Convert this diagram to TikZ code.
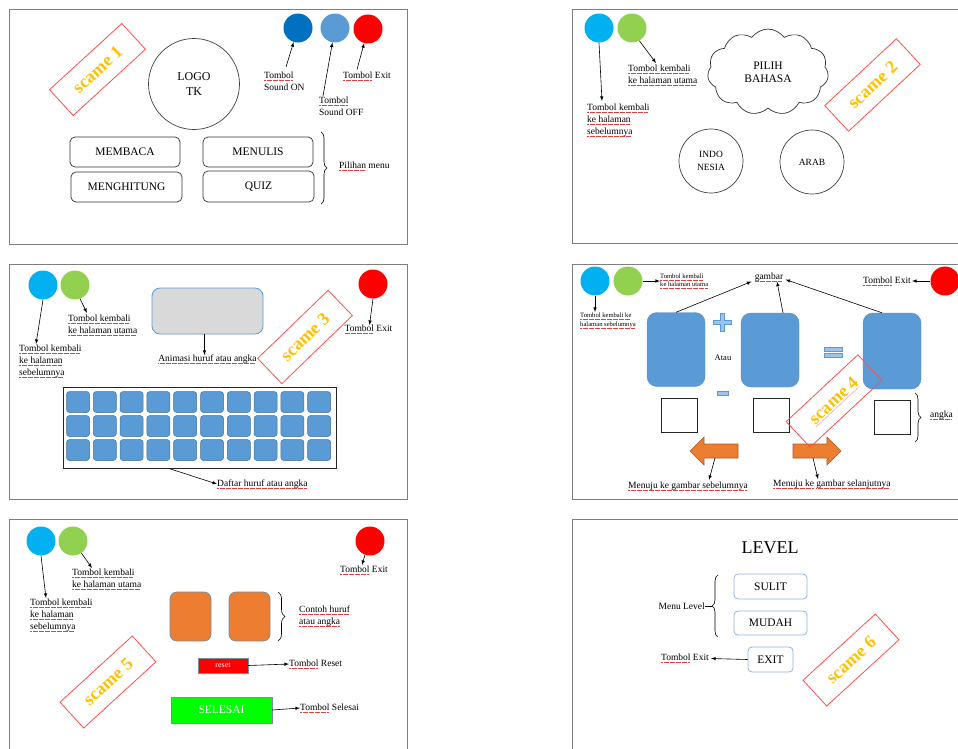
\documentclass[tikz,border=0pt]{standalone}
\usepackage{fontspec}
\setmainfont{Liberation Serif}
\usetikzlibrary{shapes.symbols,decorations.pathreplacing}

\definecolor{framegray}{HTML}{7F7F7F}
\definecolor{scamered}{HTML}{FF4F4F}
\definecolor{scamegold}{HTML}{FFC000}
\definecolor{soundon}{HTML}{0070C0}
\definecolor{boxblue}{HTML}{5B9BD5}
\definecolor{keyborder}{HTML}{41719C}
\definecolor{backcyan}{HTML}{00B0F0}
\definecolor{homegreen}{HTML}{92D050}
\definecolor{exitred}{HTML}{FF0000}
\definecolor{opblue}{HTML}{9DC3E6}
\definecolor{orangefill}{HTML}{ED7D31}
\definecolor{orangeline}{HTML}{AE5A21}
\definecolor{slateline}{HTML}{7A8CA0}
\definecolor{lvlblue}{HTML}{8FB4DC}
\definecolor{selesaigreen}{HTML}{00FF00}
\definecolor{typored}{HTML}{E04040}

\newsavebox\typobox
\newcommand\typo[1]{\leavevmode\sbox\typobox{#1}\rlap{\textcolor{typored}{\leaders\hbox{\rule[-2pt]{0.6pt}{0.4pt}\kern0.6pt}\hskip\wd\typobox}}\usebox\typobox}

\begin{document}
\begin{tikzpicture}[x=1pt, y=-1pt,
  frame/.style={draw=framegray, line width=1pt},
  scame box/.style={draw=scamered, line width=0.8pt, minimum width=98pt, minimum height=35pt,
                    text=scamegold, font=\fontsize{18}{18}\selectfont\bfseries},
  tombol/.style={circle, minimum size=29pt, inner sep=0pt},
  txt/.style={font=\fontsize{9.5}{12}\selectfont, inner sep=0pt, align=left},
  tiny txt/.style={font=\fontsize{6.6}{8.5}\selectfont, inner sep=0pt, align=left},
  pointer/.style={-latex, line width=0.6pt},
  menu box/.style={draw=black!80, line width=0.7pt, rounded corners=5pt, minimum width=110pt,
                   minimum height=30pt, font=\fontsize{11.5}{12}\selectfont},
  round box/.style={circle, draw=black!75, line width=0.7pt, inner sep=0pt, align=center},
  key/.style={rounded corners=3pt, fill=boxblue, draw=keyborder, line width=0.5pt,
              minimum width=23pt, minimum height=21pt, inner sep=0pt},
  gambar box/.style={rounded corners=10pt, fill=boxblue, draw=boxblue!90!black,
                     minimum width=58pt, minimum height=74pt, inner sep=0pt},
  angka box/.style={draw=black!85, line width=0.7pt, minimum width=36pt, minimum height=34pt, inner sep=0pt},
  op/.style={fill=opblue, draw=boxblue, line width=0.6pt},
  nav arrow/.style={fill=orangefill, draw=orangeline, line width=0.6pt},
  contoh box/.style={rounded corners=7pt, fill=orangefill, draw=slateline, line width=0.8pt,
                     minimum width=41pt, minimum height=49pt, inner sep=0pt},
  level box/.style={draw=lvlblue, line width=0.8pt, rounded corners=4pt,
                    font=\fontsize{11.5}{12}\selectfont, inner sep=0pt},
  kurung/.style={decorate, decoration={brace, amplitude=6pt}, line width=0.6pt}]

\useasboundingbox (0,0) rectangle (958,748);
\fill[white] (0,0) rectangle (958,748);

\draw[frame] (9,9) rectangle (407,244);
\node[scame box, rotate=42.5] (sc1) at (97.5,69.5) {scame 1};
\node[round box, minimum size=91pt, font=\fontsize{12}{15}\selectfont] (logo) at (194,84) {LOGO\\TK};
\node[tombol, fill=soundon] (on) at (298,28) {};
\node[tombol, fill=boxblue] (off) at (335,28) {};
\node[tombol, fill=exitred] (exit1) at (368,29) {};
\node[txt, anchor=north west] (lon) at (264,72) {\typo{Tombol}\\Sound ON};
\node[txt, anchor=north west] (loff) at (319,97) {\typo{Tombol}\\Sound OFF};
\node[txt, anchor=west] (lexit1) at (343,76) {\typo{Tombol} Exit};
\draw[pointer] ([xshift=22pt,yshift=5pt]lon.north west) -- (on);
\draw[pointer] ([xshift=4pt,yshift=1pt]loff.north west) -- (off);
\draw[pointer] ([xshift=14pt,yshift=2pt]lexit1.north west) -- (exit1);
\node[menu box] (membaca) at (125,152) {MEMBACA};
\node[menu box] (menulis) at (258,152) {MENULIS};
\node[menu box, minimum width=111pt] (menghitung) at (126.5,187) {MENGHITUNG};
\node[menu box, minimum width=111pt, minimum height=31pt] (quiz) at (258.5,186.5) {QUIZ};
\draw[kurung] (321,132) -- (321,204);
\node[txt, anchor=west] (lpilihan) at (339,166) {\typo{Pilihan} menu};

\draw[frame] (572,9) rectangle (975,243);
\node[tombol, fill=backcyan] (cy2) at (599,28) {};
\node[tombol, fill=homegreen] (gr2) at (632,28) {};
\node[txt, anchor=north west] (lprev2) at (587,104) {\typo{Tombol kembali}\\\typo{ke halaman}\\\typo{sebelumnya}};
\node[txt, anchor=north west] (lmain2) at (628,65) {\typo{Tombol kembali}\\\typo{ke halaman utama}};
\draw[pointer] (cy2.south) -- ([xshift=15pt,yshift=3pt]lprev2.north west);
\draw[pointer] (gr2.-60) -- ([xshift=28pt,yshift=2pt]lmain2.north west);
\node[cloud, draw=black!80, line width=0.7pt, cloud puffs=11, cloud puff arc=110, aspect=1.4, minimum width=121pt,
      minimum height=86pt, inner sep=0pt, align=center, font=\fontsize{11.5}{13}\selectfont] (bahasa) at (768,72) {PILIH\\BAHASA};
\node[scame box, rotate=43] (sc2) at (872.5,85) {scame 2};
\node[round box, minimum size=64pt, font=\fontsize{9.5}{13}\selectfont] (indo) at (711,161) {INDO\\NESIA};
\node[round box, minimum size=64pt, font=\fontsize{9.5}{13}\selectfont] (arab) at (812,162) {ARAB};

\draw[frame] (9,264) rectangle (407,499);
\node[tombol, fill=backcyan] (cy3) at (43,285) {};
\node[tombol, fill=homegreen] (gr3) at (75,285) {};
\node[txt, anchor=north west] (lprev3) at (19,345) {\typo{Tombol kembali}\\\typo{ke halaman}\\\typo{sebelumnya}};
\node[txt, anchor=north west] (lmain3) at (68,315) {\typo{Tombol kembali}\\\typo{ke halaman utama}};
\draw[pointer] (cy3.south) -- ([xshift=17pt,yshift=1pt]lprev3.north west);
\draw[pointer] (gr3.-70) -- ([xshift=19pt,yshift=2pt]lmain3.north west);
\node[rounded corners=8pt, fill=black!15, draw=boxblue, line width=0.8pt, minimum width=111pt,
      minimum height=46pt] (anim) at (207.5,311) {};
\node[txt, anchor=north] (lanim) at (207.5,355) {\typo{Animasi huruf atau angka}};
\draw[pointer] ([xshift=-3pt]anim.south) -- ([xshift=-3pt]lanim.north);
\node[scame box, rotate=44] (sc3) at (305,337) {scame 3};
\node[tombol, fill=exitred] (ex3) at (373,284) {};
\node[txt, anchor=north] (lex3) at (368.5,325) {\typo{Tombol} Exit};
\draw[pointer] (ex3.south) -- ([xshift=1pt]lex3.north);
\node[draw=black!85, line width=0.7pt, minimum width=273pt, minimum height=81pt] (kb) at (199.5,427.5) {};
\foreach \col in {0,...,9} {
  \foreach \row in {0,1,2} {
    \node[key] (k\col\row) at (78+26.8*\col, 402+24*\row) {};
  }
}
\node[txt, anchor=west] (ldaftar) at (217,484) {\typo{Daftar huruf atau angka}};
\draw[pointer] ([xshift=-31pt]kb.south) -- (ldaftar.west);

\draw[frame] (572,264) rectangle (975,499);
\node[tombol, fill=backcyan] (cy4) at (595,281) {};
\node[tombol, fill=homegreen] (gr4) at (628,281) {};
\node[tiny txt, anchor=west] (lmain4) at (660,281) {\typo{Tombol kembali}\\\typo{ke halaman utama}};
\node[tiny txt, anchor=north west] (lprev4) at (580,313) {\typo{Tombol kembali ke}\\\typo{halaman sebelumnya}};
\draw[pointer] (gr4) -- (lmain4.west);
\draw[pointer] (cy4) -- ([xshift=15pt,yshift=1pt]lprev4.north west);
\node[txt] (lgam) at (769,277) {\typo{gambar}};
\node[gambar box] (g1) at (676,349.5) {};
\node[gambar box] (g2) at (770,350) {};
\node[gambar box, minimum height=76pt] (g3) at (892,351) {};
\draw[pointer] (g1.north) -- ([xshift=-3pt]lgam.south west);
\draw[pointer] ([xshift=13pt]g2.north) -- ([xshift=8pt]lgam.south);
\draw[pointer] ([xshift=-10pt]g3.north) -- ([xshift=2pt,yshift=2pt]lgam.south east);
\filldraw[op] (720.5,313.5) -- (724.5,313.5) -- (724.5,320.5) -- (731.5,320.5) -- (731.5,324.5)
  -- (724.5,324.5) -- (724.5,331.5) -- (720.5,331.5) -- (720.5,324.5) -- (713.5,324.5)
  -- (713.5,320.5) -- (720.5,320.5) -- cycle;
\node[font=\fontsize{8.5}{10}\selectfont, inner sep=0pt] (atau) at (723,358) {Atau};
\filldraw[op] (717,391) rectangle (728,395.5);
\filldraw[op] (824.5,347.5) rectangle (842,351.5);
\filldraw[op] (824.5,353.5) rectangle (842,357.5);
\node[angka box] (a1) at (679,415.5) {};
\node[angka box] (a2) at (771,415.5) {};
\node[angka box] (a3) at (892,417.5) {};
\draw[kurung] (915,393) -- (915,442);
\node[txt, anchor=west] (langka) at (930,415) {\typo{angka}};
\node[tombol, fill=exitred] (ex4) at (945,281) {};
\node[txt, anchor=east] (lex4) at (911,281) {\typo{Tombol} Exit};
\draw[pointer] (ex4) -- ([xshift=1pt]lex4.east);
\filldraw[nav arrow] (690,451) -- (704,437) -- (704,444) -- (738,444) -- (738,458) -- (704,458)
  -- (704,465) -- cycle;
\filldraw[nav arrow] (841,451) -- (827,437) -- (827,444) -- (793,444) -- (793,458) -- (827,458)
  -- (827,465) -- cycle;
\coordinate (mundur) at (715,458);
\coordinate (maju) at (813,458);
\node[txt, anchor=north west] (lmundur) at (628,482) {\typo{Menuju ke gambar sebelumnya}};
\node[txt, anchor=north west] (lmaju) at (773,480) {\typo{Menuju ke} \typo{gambar selanjutnya}};
\draw[pointer] (mundur) -- ([xshift=81pt,yshift=2pt]lmundur.north west);
\draw[pointer] (maju) -- ([xshift=45pt,yshift=1pt]lmaju.north west);
\node[scame box, rotate=43] (sc4) at (834,401) {\typo{scame 4}};

\draw[frame] (9,519) rectangle (407,760);
\node[tombol, fill=backcyan] (cy5) at (41,541) {};
\node[tombol, fill=homegreen] (gr5) at (73,541) {};
\node[txt, anchor=north west] (lprev5) at (30,599) {\typo{Tombol kembali}\\\typo{ke halaman}\\\typo{sebelumnya}};
\node[txt, anchor=north west] (lmain5) at (72,569) {\typo{Tombol kembali}\\\typo{ke halaman utama}};
\draw[pointer] (cy5.south) -- ([xshift=16pt,yshift=1pt]lprev5.north west);
\draw[pointer] (gr5.-55) -- ([xshift=20pt,yshift=1pt]lmain5.north west);
\node[tombol, fill=exitred] (ex5) at (370,541) {};
\node[txt, anchor=north west] (lex5) at (340,566) {\typo{Tombol} Exit};
\draw[pointer] (ex5.-110) -- ([xshift=22pt,yshift=1pt]lex5.north west);
\node[contoh box] (c1) at (190.5,616.5) {};
\node[contoh box] (c2) at (249.5,616.5) {};
\draw[kurung, decoration={amplitude=7pt}] (278,592) -- (278,641);
\node[txt, anchor=west] (lcontoh) at (299,616.5) {\typo{Contoh huruf}\\\typo{atau angka}};
\node[fill=exitred, draw=slateline, minimum width=50pt, minimum height=15pt, inner sep=0pt,
      text=white, font=\fontsize{8}{9}\selectfont] (reset) at (223,665.5) {reset};
\node[txt, anchor=west] (lreset) at (289,664) {\typo{Tombol} Reset};
\draw[pointer] (reset.east) -- (lreset.west);
\node[fill=selesaigreen, draw=slateline, minimum width=101pt, minimum height=26pt, inner sep=0pt,
      text=white, font=\fontsize{11.5}{12}\selectfont] (selesai) at (221.5,710) {SELESAI};
\node[txt, anchor=west] (lselesai) at (300,708) {\typo{Tombol} Selesai};
\draw[pointer] (selesai.east) -- (lselesai.west);
\node[scame box, rotate=42.5] (sc5) at (108,682) {scame 5};

\draw[frame] (572,519) rectangle (975,760);
\node[font=\fontsize{18}{20}\selectfont, inner sep=0pt] (level) at (770,548) {LEVEL};
\node[level box, minimum width=73pt, minimum height=25pt] (sulit) at (770.5,586.5) {SULIT};
\node[level box, minimum width=73pt, minimum height=24pt] (mudah) at (770.5,623) {MUDAH};
\node[level box, minimum width=45pt, minimum height=25pt] (exit6) at (770.5,659.5) {EXIT};
\draw[kurung] (718,637) -- (718,575);
\node[txt, anchor=east] (lmenu) at (705,606) {Menu Level};
\draw[line width=0.6pt] (lmenu.east) -- (712,606);
\node[txt, anchor=east] (lex6) at (709,658.5) {\typo{Tombol} Exit};
\draw[pointer] (exit6.west) -- ([xshift=2pt]lex6.east);
\node[scame box, rotate=42.5] (sc6) at (851,660) {scame 6};

\end{tikzpicture}
\end{document}
